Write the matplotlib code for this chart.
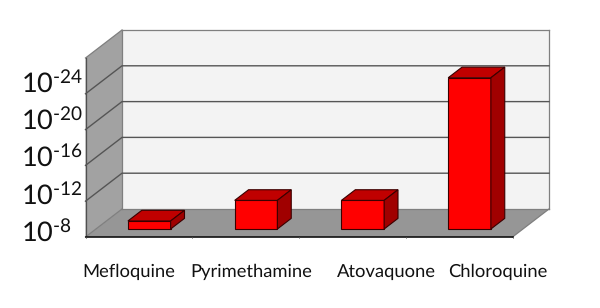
import numpy as np
import matplotlib
matplotlib.use('Agg')
import matplotlib.pyplot as plt
from matplotlib.patches import Polygon

# Data (exponents)
drugs = ['Mefloquine', 'Pyrimethamine', 'Atovaquone', 'Chloroquine']
exponents = [8.9, 11.2, 11.2, 24.9]
tick_exponents = [8, 12, 16, 20, 24]

W, H = 600, 308
plt.rcParams['font.family'] = ['Lato', 'DejaVu Sans']
plt.rcParams['mathtext.fontset'] = 'custom'
plt.rcParams['mathtext.rm'] = 'Lato'
plt.rcParams['mathtext.default'] = 'rm'
plt.rcParams['text.hinting'] = 'none'

fig = plt.figure(figsize=(W / 100, H / 100), dpi=100)

# Axes is the front plane of the fake 3D box
x0, x1, y0, y1 = 85.5, 512.5, 237, 58
ax = fig.add_axes([x0 / W, 1 - y0 / H, (x1 - x0) / W, (y0 - y1) / H])
ax.set_xlim(-0.5, 3.5)
ax.set_ylim(8, 28)
ax.axis('off')

# Depth vector, in data units
dx = 36.5 / ((x1 - x0) / 4)
dy = 28 / ((y0 - y1) / 20)


def poly(points, color, edge='none', lw=0.0, z=1):
    ax.add_patch(Polygon(points, closed=True, facecolor=color, edgecolor=edge,
                         linewidth=lw, clip_on=False, zorder=z, joinstyle='miter'))


def p(x, y, d):
    return (x + d * dx, y + d * dy)


# Walls and floor
poly([p(-0.5, 8, 1), p(3.5, 8, 1), p(3.5, 28, 1), p(-0.5, 28, 1)], '#f3f3f3')
poly([p(-0.5, 8, 0), p(-0.5, 8, 1), p(-0.5, 28, 1), p(-0.5, 28, 0)], '#a2a2a2')
poly([p(-0.5, 8, 0), p(3.5, 8, 0), p(3.5, 8, 1), p(-0.5, 8, 1)], '#969696')

# Outlines of the box
edge = '#7f7f7f'
for a, b in [(p(-0.5, 28, 0), p(-0.5, 28, 1)), (p(-0.5, 28, 1), p(3.5, 28, 1)),
             (p(3.5, 28, 1), p(3.5, 8, 1)), (p(3.5, 8, 1), p(3.5, 8, 0)),
             (p(-0.5, 8, 1), p(-0.5, 28, 1)), (p(-0.5, 8, 1), p(3.5, 8, 1)),
             (p(-0.5, 8, 0), p(-0.5, 8, 1))]:
    ax.plot([a[0], b[0]], [a[1], b[1]], color=edge, lw=0.9, clip_on=False, zorder=2)
ax.plot([-0.5, -0.5], [8, 28], color='#505050', lw=0.9, clip_on=False, zorder=2)

# Gridlines on the left wall and back wall
for v in tick_exponents[1:]:
    a, b, c = p(-0.5, v, 0), p(-0.5, v, 1), p(3.5, v, 1)
    ax.plot([a[0], b[0], c[0]], [a[1], b[1], c[1]], color='#555555', lw=1.0,
            clip_on=False, zorder=2, solid_joinstyle='miter')

# Front axis line with small ticks
ax.plot([-0.5, 3.5], [8, 8], color='#111111', lw=1.2, clip_on=False, zorder=3)
for i in range(5):
    ax.plot([i - 0.5, i - 0.5], [8, 7.9], color='#606060', lw=0.5, clip_on=False, zorder=3)

# Bars
half = 0.2
d0, d1 = 0.285, 0.665
for i, val in enumerate(exponents):
    l, r = i - half, i + half
    z = 5 + i
    poly([p(l, 8, d0), p(r, 8, d0), p(r, val, d0), p(l, val, d0)],
         '#ff0000', '#3a0000', 0.8, z)
    poly([p(l, val, d0), p(r, val, d0), p(r, val, d1), p(l, val, d1)],
         '#c00000', '#3a0000', 0.8, z)
    poly([p(r, 8, d0), p(r, 8, d1), p(r, val, d1), p(r, val, d0)],
         '#a00000', '#3a0000', 0.8, z)

# Value axis labels
for i, v in enumerate(tick_exponents):
    fig.text(21 / W, 1 - (241.5 - 37.2 * i) / H, '$\\mathrm{10^{\\text{-%d}}}$' % v,
             fontsize=19.5, color='#111111', ha='left', va='baseline')

# Category labels
label_x = [128.5, 251, 386, 497.5]
for name, lx in zip(drugs, label_x):
    fig.text(lx / W, 1 - 277 / H, name, fontsize=13.2, color='#111111',
             ha='center', va='baseline')

fig.savefig('out.png', dpi=100, facecolor='white')
